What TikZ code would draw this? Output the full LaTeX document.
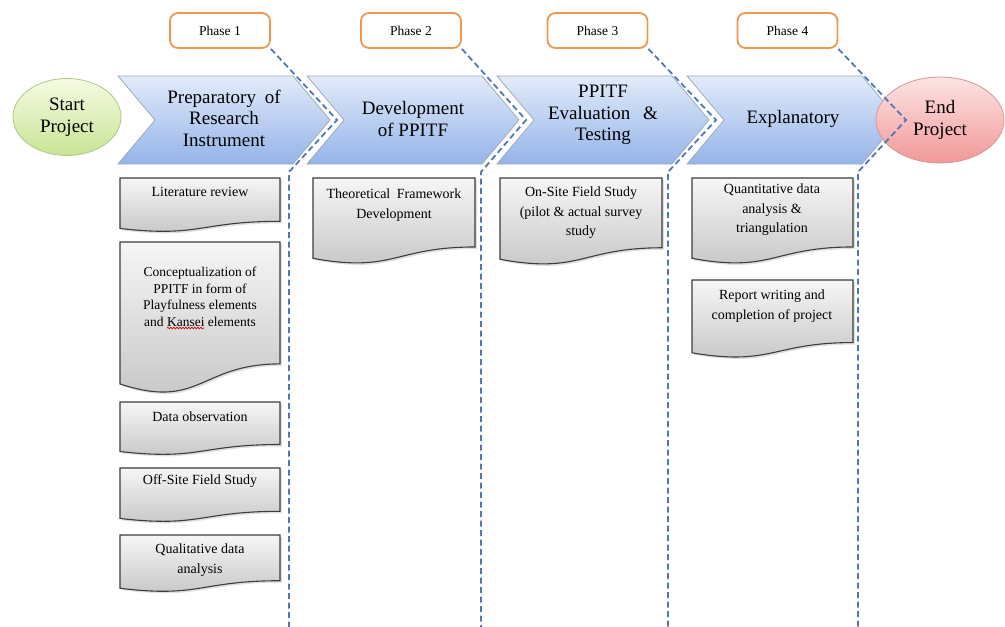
\documentclass[tikz,border=0pt]{standalone}
\usepackage{fontspec}
\setmainfont{Liberation Serif}
\usepackage{xcolor}
\usepackage{tikz}
\usetikzlibrary{calc}
\usetikzlibrary{shapes.geometric}
\usetikzlibrary{positioning,shadows,decorations.pathmorphing}
\definecolor{chevtop}{RGB}{226,235,250}
\definecolor{chevbot}{RGB}{148,180,232}
\definecolor{chevedge}{RGB}{160,170,186}
\definecolor{phaseorange}{RGB}{236,152,78}
\definecolor{lineblue}{RGB}{79,121,182}
\definecolor{starttop}{RGB}{246,251,226}
\definecolor{startbot}{RGB}{200,228,150}
\definecolor{startedge}{RGB}{175,200,130}
\definecolor{endtop}{RGB}{253,228,228}
\definecolor{endbot}{RGB}{241,152,152}
\definecolor{endedge}{RGB}{215,150,150}
\definecolor{doctop}{RGB}{246,246,246}
\definecolor{docbot}{RGB}{196,196,196}
\definecolor{docedge}{RGB}{60,60,60}
% left, top, width, height of a document box
\newcommand{\docshape}[4]{\path[TaskBox] (#1,#2) -- ({#1+#3},#2) -- ({#1+#3},{#2+0.802*#4}) .. controls ({#1+0.5*#3},{#2+0.802*#4}) and ({#1+0.5*#3},{#2+1.107*#4}) .. (#1,{#2+0.934*#4}) -- cycle;}

\begin{document}
\begin{tikzpicture}[
x=1pt, y=-1pt,
Chevron/.style={draw=chevedge, line width=0.8pt, top color=chevtop, bottom color=chevbot},
ChevText/.style={align=center, font=\fontsize{19}{21.5}\selectfont},
StartEnd/.style={ellipse, inner sep=0pt, line width=0.8pt, align=center, font=\fontsize{19}{21.5}\selectfont},
PhaseBox/.style={draw=phaseorange, line width=1.8pt, fill=white, rounded corners=8pt, minimum width=100pt, minimum height=35pt, inner sep=0pt, font=\fontsize{13.5}{14}\selectfont},
PhaseLine/.style={draw=lineblue, line width=1.8pt, dash pattern=on 6pt off 3.5pt},
TaskBox/.style={draw=docedge, line width=1.1pt, top color=doctop, bottom color=docbot, drop shadow={opacity=0.25, shadow xshift=2pt, shadow yshift=-2pt}},
TaskText/.style={align=center, font=\fontsize{14}{19.5}\selectfont},
SpellWave/.style={draw=red!80!black, line width=0.7pt, decorate, decoration={snake, amplitude=0.8pt, segment length=3pt}}
]
\useasboundingbox (0,0) rectangle (1005,627);

% start and end
\node[StartEnd, draw=startedge, top color=starttop, bottom color=startbot, minimum width=108pt, minimum height=77pt] (start) at (67,117) {Start\\Project};

% phase chevrons
\foreach \xo in {118,307,497,687}
  \draw[Chevron] (\xo,76) -- ++(175,0) -- ++(37,44) -- ++(-37,44) -- ++(-175,0) -- ++(37,-44) -- cycle;

\node[ChevText] (prep) at (224,118) {Preparatory\hspace{4pt} of\\Research\\Instrument};
\node[ChevText] (dev) at (413,119) {Development\\of PPITF};
\node[ChevText] (eval) at (603,115) {PPITF\\Evaluation\hspace{8pt} \&\\Testing};
\node[ChevText] (expl) at (793,119) {Explanatory};

\node[StartEnd, draw=endedge, top color=endtop, bottom color=endbot, minimum width=128pt, minimum height=86pt] (end) at (940,120) {End\\Project};

% phase labels and dividers
\node[PhaseBox] (ph1) at (220,30.5) {Phase 1};
\node[PhaseBox] (ph2) at (411,30.5) {Phase 2};
\node[PhaseBox] (ph3) at (597.5,30.5) {Phase 3};
\node[PhaseBox] (ph4) at (787.5,30.5) {Phase 4};

\coordinate (bend1) at (337,120);
\coordinate (foot1) at (289,172);
\coordinate (low1) at (289,627);
\coordinate (bend2) at (526,120);
\coordinate (foot2) at (481,172);
\coordinate (low2) at (481,627);
\coordinate (bend3) at (716,120);
\coordinate (foot3) at (668,172);
\coordinate (low3) at (668,627);
\coordinate (bend4) at (906,120);
\coordinate (foot4) at (858,172);
\coordinate (low4) at (858,627);

\draw[PhaseLine] (ph1.south east) -- (bend1) -- (foot1) -- (low1);
\draw[PhaseLine] (ph2.south east) -- (bend2) -- (foot2) -- (low2);
\draw[PhaseLine] (ph3.south east) -- (bend3) -- (foot3) -- (low3);
\draw[PhaseLine] (ph4.south east) -- (bend4) -- (foot4) -- (low4);

% phase 1 tasks
\docshape{120}{178}{160}{54}
\node[TaskText] (litrev) at (200,192) {Literature review};
\docshape{120}{242}{160}{152}
\node[TaskText, font=\fontsize{13.5}{16.5}\selectfont] (concept) at (200,297) {Conceptualization of\\PPITF in form of\\Playfulness elements\\and Kansei elements};
\draw[SpellWave] (167,328) -- (204,328);
\docshape{120}{402}{160}{53}
\node[TaskText] (dataobs) at (200,417) {Data observation};
\docshape{120}{468}{160}{54}
\node[TaskText] (offsite) at (200,481) {Off-Site Field Study};
\docshape{120}{535}{160}{57}
\node[TaskText] (qual) at (200,560) {Qualitative data\\analysis};

% phase 2 tasks
\docshape{313}{178}{162}{86}
\node[TaskText] (theo) at (394,205) {Theoretical\hspace{3pt} Framework\\Development};

% phase 3 tasks
\docshape{500}{178}{162}{87}
\node[TaskText] (onsite) at (581,213) {On-Site Field Study\\(pilot \& actual survey\\study};

% phase 4 tasks
\docshape{692}{178}{161}{86}
\node[TaskText] (quant) at (772,210) {Quantitative data\\analysis \&\\triangulation};
\docshape{692}{280}{161}{78}
\node[TaskText] (report) at (772,306) {Report writing and\\completion of project};

\end{tikzpicture}
\end{document}
